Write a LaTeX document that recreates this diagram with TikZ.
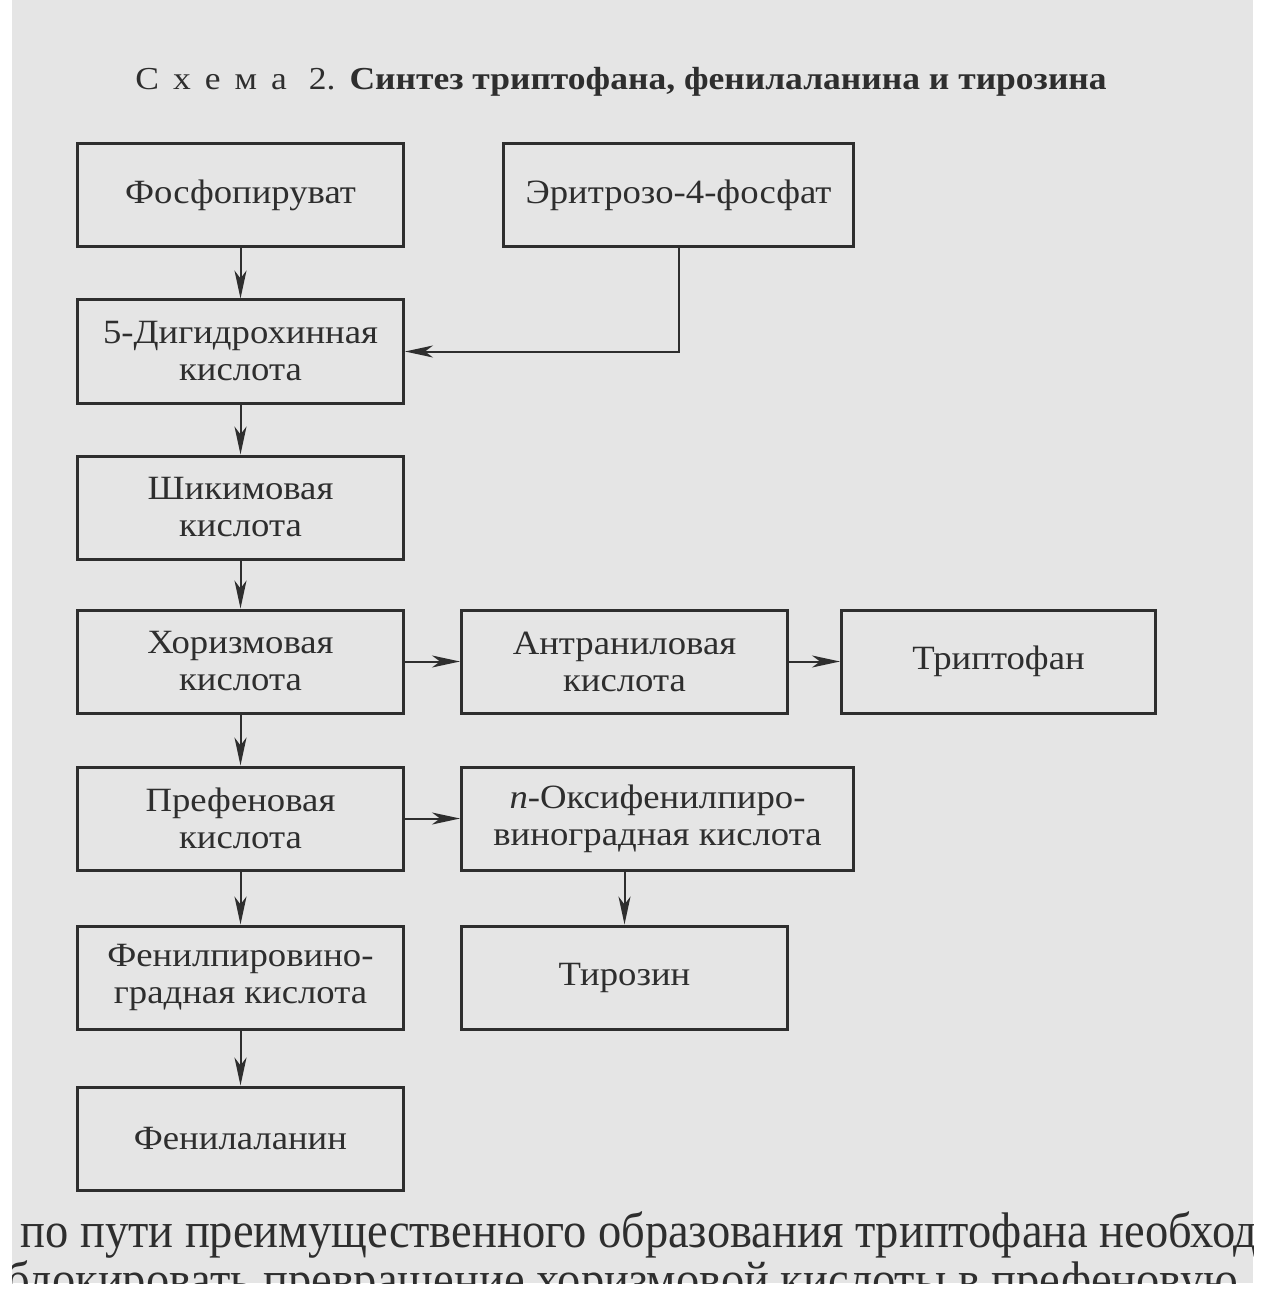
\documentclass[tikz,border=0pt]{standalone}
\usepackage{fontspec}
\setmainfont{Liberation Serif}[FakeStretch=1.08]
\newfontfamily\plainserif{Liberation Serif}[FakeStretch=0.93]
\newfontfamily\titlefont{Liberation Serif}[FakeStretch=1.11]
\usetikzlibrary{positioning,arrows.meta}
\definecolor{paper}{gray}{0.9}
\definecolor{ink}{gray}{0.18}
\tikzset{
  box/.style={draw=ink, line width=1.5pt, minimum width=163pt, minimum height=51.5pt,
    inner sep=0pt, align=center, text=ink, font=\fontsize{17}{18.5}\selectfont},
  flow/.style={-{Stealth[length=14pt,width=6pt,inset=4pt]}, line width=1pt, draw=ink},
}

\begin{document}
\begin{tikzpicture}[x=0.5pt,y=-0.5pt,node distance=25pt]
\useasboundingbox (0,0) rectangle (1261,1294);
\fill[white] (0,0) rectangle (1261,1294);
\fill[paper] (12,0) rectangle (1253,1283);

% title
\node[anchor=base west, text=ink, inner sep=0pt, font=\titlefont\fontsize{16}{18}\selectfont] (title) at (135,90)
  {С\hspace{7pt}х\hspace{7pt}е\hspace{7pt}м\hspace{7pt}а\hspace{11pt}2.\hspace{7pt}\textbf{Синтез триптофана, фенилаланина и тирозина}};

% left column
\node[box] (fosfo) at (240.5,195.5) {Фосфопируват};
\node[box, minimum width=175pt, right=48.5pt of fosfo] (eritr) {Эритрозо-4-фосфат};
\node[box, below=of fosfo] (dgh) {5-Дигидрохинная\\кислота};
\node[box, below=of dgh] (shik) {Шикимовая\\кислота};
\node[box, below=24pt of shik] (horiz) {Хоризмовая\\кислота};
\node[box, right=27.5pt of horiz] (antr) {Антраниловая\\кислота};
\node[box, minimum width=157pt, right=25.5pt of antr] (trp) {Триптофан};
\node[box, below=25.5pt of horiz] (pref) {Префеновая\\кислота};
\node[box, minimum width=196pt, right=27.5pt of pref] (oksi) {\textit{п}-Оксифенилпиро-\\виноградная кислота};
\node[box, below=26.5pt of pref] (fpv) {Фенилпировино-\\градная кислота};
\node[box, right=27.5pt of fpv] (tyr) {Тирозин};
\node[box, below=27.5pt of fpv] (phe) {Фенилаланин};

% arrows
\draw[flow] (fosfo) -- (dgh);
\draw[flow] (eritr.south) |- (dgh.east);
\draw[flow] (dgh) -- (shik);
\draw[flow] (shik) -- (horiz);
\draw[flow] (horiz) -- (antr);
\draw[flow] (antr) -- (trp);
\draw[flow] (horiz) -- (pref);
\draw[flow] (pref) -- (oksi);
\draw[flow] (oksi.south -| tyr) -- (tyr);
\draw[flow] (pref) -- (fpv);
\draw[flow] (fpv) -- (phe);

% text below the scheme
\begin{scope}
\clip (12,0) rectangle (1253,1283);
\node[anchor=base west, text=ink, inner sep=0pt, font=\plainserif\fontsize{25}{28}\selectfont] (line1) at (20,1247)
  {по пути преимущественного образования триптофана необходимо};
\node[anchor=base west, text=ink, inner sep=0pt, font=\plainserif\fontsize{25}{28}\selectfont] (line2) at (6,1296)
  {блокировать превращение хоризмовой кислоты в префеновую};
\end{scope}
\end{tikzpicture}
\end{document}
